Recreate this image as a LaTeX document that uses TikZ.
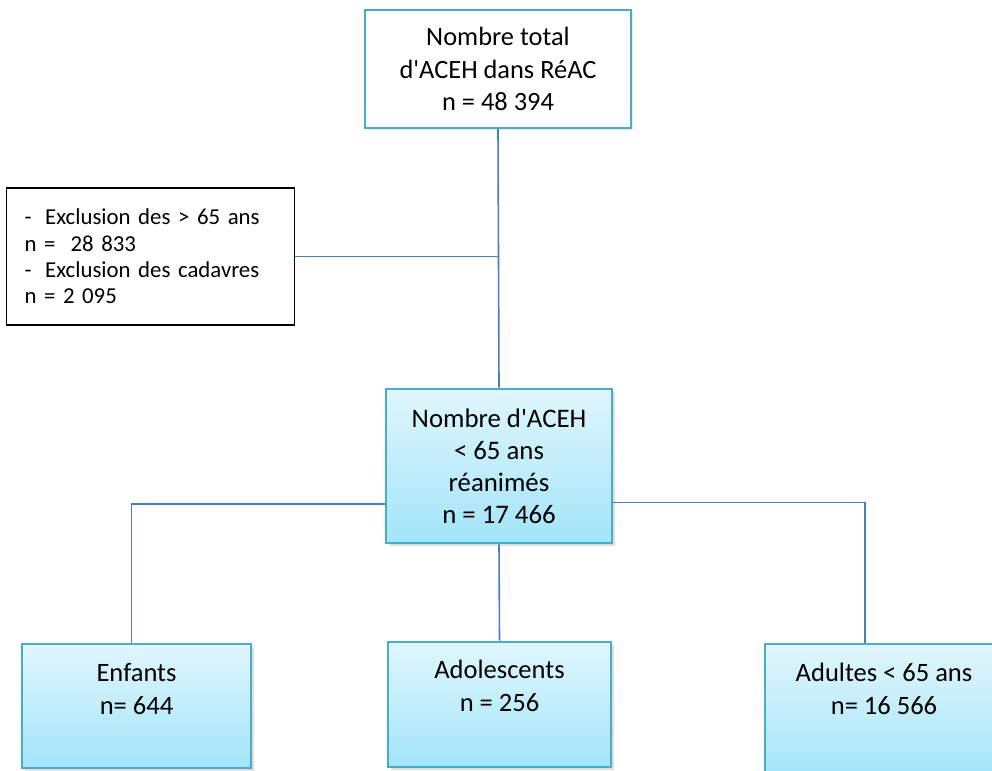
\documentclass[tikz,border=0pt]{standalone}
\usepackage{fontspec}
\setmainfont{Carlito}
\usepackage{tikz}
\usetikzlibrary{positioning, shadows}
\definecolor{framecolor}{HTML}{4BACC6}
\definecolor{linkcolor}{HTML}{4A7EBB}
\definecolor{boxtopcolor}{HTML}{E0F6FD}
\definecolor{boxbotcolor}{HTML}{A3E5F9}
\newlength\pxu
\setlength\pxu{0.0265cm}

\begin{document}
\begin{tikzpicture}[x=0.0265cm, y=-0.0265cm,
    framebox/.style={draw=framecolor, line width=2.2\pxu, fill=white, align=center,
      drop shadow={shadow xshift=1.5pt, shadow yshift=-1.5pt, opacity=0.18}},
    bluebox/.style={draw=framecolor, line width=2.6\pxu, top color=boxtopcolor, bottom color=boxbotcolor,
      align=center, drop shadow={shadow xshift=2pt, shadow yshift=-2pt, opacity=0.25}},
    notebox/.style={draw=black, line width=1.2\pxu, fill=white, align=left},
    leaftext/.style={inner sep=0pt, align=center, font=\fontsize{20}{25.2}\selectfont},
    link/.style={draw=linkcolor, line width=1.6\pxu}]
    \useasboundingbox (0,0) rectangle (992,771);
    \clip (0,0) rectangle (992,771);

    % Total
    \node[framebox, minimum width=266\pxu, minimum height=118\pxu,
      font=\fontsize{19.9}{24.3}\selectfont] (total) at (498,69)
      {Nombre total\\d\textquotesingle ACEH dans RéAC\\n = 48 394};

    % Exclusions
    \node[notebox, minimum width=287\pxu, minimum height=137\pxu, text width=252\pxu,
      inner xsep=18\pxu, font=\fontsize{17.2}{19.9}\selectfont] (excl) at (150.5,256.5)
      {-\hspace{0.6em}Exclusion des > 65 ans\\n =\ \ 28 833\\-\hspace{0.6em}Exclusion des cadavres\\n = 2 095};

    % Resuscitated
    \node[bluebox, minimum width=226\pxu, minimum height=154\pxu,
      font=\fontsize{20.2}{24.1}\selectfont] (reanim) at (499,466)
      {Nombre d\textquotesingle ACEH\\< 65 ans\\réanimés\\n = 17 466};

    % Groups
    \node[bluebox, minimum width=229\pxu, minimum height=124\pxu] (enf) at (136.5,706) {};
    \node[leaftext, below=20\pxu of enf.north] (enftxt) {Enfants\\n= 644};

    \node[bluebox, minimum width=223\pxu, minimum height=125\pxu] (ado) at (499.5,704.5) {};
    \node[leaftext, below=19\pxu of ado.north] (adotxt) {Adolescents\\n = 256};

    \node[bluebox, minimum width=238\pxu, minimum height=136\pxu] (adu) at (884,712) {};
    \node[leaftext, below=20\pxu of adu.north] (adutxt) {Adultes < 65 ans\\n= 16 566};

    % Connectors
    \draw[link] (total.south) -- (reanim.north);
    \draw[link] (excl.east) -- (excl.east -| total.south);
    \draw[link] ([yshift=-1.0cm]reanim.west) -| ([xshift=-5\pxu]enf.north);
    \draw[link] ([yshift=-0.97cm]reanim.east) -| ([xshift=-19\pxu]adu.north);
    \draw[link] (reanim.south) -- (ado.north);
\end{tikzpicture}
\end{document}
